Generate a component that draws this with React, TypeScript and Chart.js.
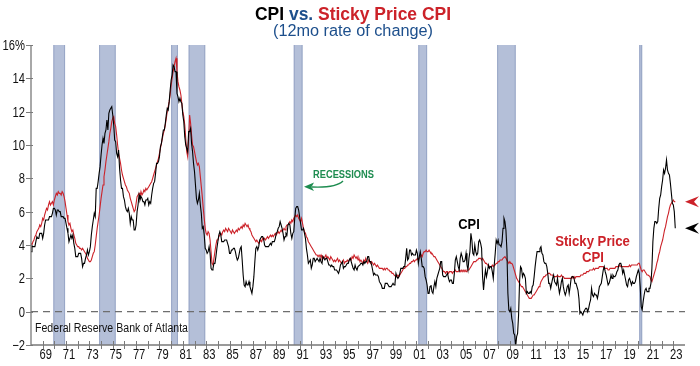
import React, { useEffect, useRef } from 'react';
import { Chart, registerables } from 'chart.js';

Chart.register(...registerables);

// Monthly series start in January of this year
const START_YEAR = 1968;

// CPI, 12-month % change, monthly (Jan 1968 .. Mar 2023)
const CPI = [
  3.6, 3.9, 3.9, 3.9, 3.9, 4.2, 4.5, 4.4, 4.4, 4.7, 4.7, 4.7, // 1968
  4.4, 4.7, 5.2, 5.5, 5.5, 5.5, 5.5, 5.7, 5.7, 5.7, 5.9, 6.2, // 1969
  6.2, 6.1, 5.8, 6.1, 6.1, 6.0, 6.0, 5.7, 5.7, 5.7, 5.6, 5.6, // 1970
  5.3, 5.0, 4.7, 4.2, 4.4, 4.6, 4.4, 4.6, 4.1, 3.8, 3.3, 3.3, // 1971
  3.3, 3.5, 3.5, 3.5, 3.2, 2.7, 2.9, 2.9, 3.2, 3.4, 3.7, 3.4, // 1972
  3.6, 3.9, 4.6, 5.1, 5.5, 5.9, 5.7, 7.4, 7.4, 7.8, 8.3, 8.7, // 1973
  9.4, 10.0, 10.4, 10.1, 10.7, 10.9, 11.5, 10.9, 11.9, 12.1, 12.2, 12.3, // 1974
  11.8, 11.2, 10.3, 10.2, 9.5, 9.3, 9.7, 8.6, 7.9, 7.4, 7.4, 6.9, // 1975
  6.7, 6.3, 6.1, 6.0, 6.2, 5.9, 5.3, 5.7, 5.5, 5.5, 4.9, 4.9, // 1976
  5.2, 6.0, 6.4, 7.0, 6.7, 6.9, 6.8, 6.6, 6.6, 6.4, 6.7, 6.7, // 1977
  6.8, 6.4, 6.6, 6.5, 7.0, 7.4, 7.7, 7.8, 8.3, 8.9, 8.9, 9.0, // 1978
  9.3, 9.9, 10.1, 10.5, 10.9, 10.9, 11.3, 11.8, 12.2, 12.1, 12.6, 13.3, // 1979
  13.9, 14.2, 14.8, 14.7, 14.4, 14.4, 13.1, 12.9, 12.6, 12.8, 12.6, 12.5, // 1980
  11.8, 11.4, 10.5, 10.0, 9.8, 9.6, 10.8, 10.8, 11.0, 10.1, 9.6, 8.9, // 1981
  8.4, 7.6, 6.8, 6.5, 6.7, 7.1, 6.4, 5.9, 5.0, 5.1, 4.6, 3.8, // 1982
  3.7, 3.5, 3.6, 3.9, 3.5, 2.6, 2.5, 2.6, 2.9, 2.9, 3.3, 3.8, // 1983
  4.2, 4.6, 4.8, 4.6, 4.2, 4.2, 4.2, 4.3, 4.3, 4.3, 4.1, 3.9, // 1984
  3.5, 3.5, 3.7, 3.7, 3.8, 3.8, 3.6, 3.3, 3.1, 3.2, 3.5, 3.8, // 1985
  3.9, 3.1, 2.2, 1.6, 1.5, 1.8, 1.6, 1.6, 1.8, 1.5, 1.3, 1.1, // 1986
  1.5, 2.1, 3.0, 3.8, 3.9, 3.7, 3.9, 4.3, 4.4, 4.5, 4.5, 4.4, // 1987
  4.0, 3.9, 3.9, 3.9, 3.9, 4.0, 4.1, 4.0, 4.2, 4.2, 4.2, 4.4, // 1988
  4.7, 4.8, 5.0, 5.1, 5.4, 5.2, 5.0, 4.7, 4.3, 4.5, 4.7, 4.6, // 1989
  5.2, 5.3, 5.2, 4.7, 4.4, 4.7, 4.8, 5.6, 6.2, 6.3, 6.3, 6.1, // 1990
  5.7, 5.3, 4.9, 4.9, 5.0, 4.7, 4.4, 3.8, 3.4, 2.9, 3.0, 3.1, // 1991
  2.6, 2.8, 3.2, 3.2, 3.0, 3.1, 3.2, 3.1, 3.0, 3.2, 3.0, 2.9, // 1992
  3.3, 3.2, 3.1, 3.2, 3.2, 3.0, 2.8, 2.8, 2.7, 2.8, 2.7, 2.7, // 1993
  2.5, 2.5, 2.5, 2.4, 2.3, 2.5, 2.8, 2.9, 3.0, 2.6, 2.7, 2.7, // 1994
  2.8, 2.9, 2.9, 3.1, 3.2, 3.0, 2.8, 2.6, 2.5, 2.8, 2.6, 2.5, // 1995
  2.7, 2.7, 2.8, 2.9, 2.9, 2.8, 3.0, 2.9, 3.0, 3.0, 3.3, 3.3, // 1996
  3.0, 3.0, 2.8, 2.5, 2.2, 2.3, 2.2, 2.2, 2.2, 2.1, 1.8, 1.7, // 1997
  1.6, 1.4, 1.4, 1.4, 1.7, 1.7, 1.7, 1.6, 1.5, 1.5, 1.5, 1.6, // 1998
  1.7, 1.6, 1.7, 2.3, 2.1, 2.0, 2.1, 2.3, 2.6, 2.6, 2.6, 2.7, // 1999
  2.7, 3.2, 3.8, 3.1, 3.2, 3.7, 3.7, 3.4, 3.5, 3.4, 3.4, 3.4, // 2000
  3.7, 3.5, 2.9, 3.3, 3.6, 3.2, 2.7, 2.7, 2.6, 2.1, 1.9, 1.6, // 2001
  1.1, 1.1, 1.5, 1.6, 1.2, 1.1, 1.5, 1.8, 1.5, 2.0, 2.2, 2.4, // 2002
  2.6, 3.0, 3.0, 2.2, 2.1, 2.1, 2.1, 2.2, 2.3, 2.0, 1.8, 1.9, // 2003
  1.9, 1.7, 1.7, 2.3, 3.1, 3.3, 3.0, 2.7, 2.5, 3.2, 3.5, 3.3, // 2004
  3.0, 3.0, 3.1, 3.5, 2.8, 2.5, 3.2, 3.6, 4.7, 4.3, 3.5, 3.4, // 2005
  4.0, 3.6, 3.4, 3.5, 4.2, 4.3, 4.1, 3.8, 2.1, 1.3, 2.0, 2.5, // 2006
  2.1, 2.4, 2.8, 2.6, 2.7, 2.7, 2.4, 2.0, 2.8, 3.5, 4.3, 4.1, // 2007
  4.3, 4.0, 4.0, 3.9, 4.2, 5.0, 5.6, 5.4, 4.9, 3.7, 1.1, 0.1, // 2008
  0.0, 0.2, -0.4, -0.7, -1.3, -1.4, -2.1, -1.5, -1.3, -0.2, 1.8, 2.7, // 2009
  2.6, 2.1, 2.3, 2.2, 2.0, 1.1, 1.2, 1.1, 1.1, 1.2, 1.1, 1.5, // 2010
  1.6, 2.1, 2.7, 3.2, 3.6, 3.6, 3.6, 3.8, 3.9, 3.5, 3.4, 3.0, // 2011
  2.9, 2.9, 2.7, 2.3, 1.7, 1.7, 1.4, 1.7, 2.0, 2.2, 1.8, 1.7, // 2012
  1.6, 2.0, 1.5, 1.1, 1.4, 1.8, 2.0, 1.5, 1.2, 1.0, 1.2, 1.5, // 2013
  1.6, 1.1, 1.5, 2.0, 2.1, 2.1, 2.0, 1.7, 1.7, 1.7, 1.3, 0.8, // 2014
  -0.1, 0.0, -0.1, -0.2, 0.0, 0.1, 0.2, 0.2, 0.0, 0.2, 0.5, 0.7, // 2015
  1.4, 1.0, 0.9, 1.1, 1.0, 1.0, 0.8, 1.1, 1.5, 1.6, 1.7, 2.1, // 2016
  2.5, 2.7, 2.4, 2.2, 1.9, 1.6, 1.7, 1.9, 2.2, 2.0, 2.2, 2.1, // 2017
  2.1, 2.2, 2.4, 2.5, 2.8, 2.9, 2.9, 2.7, 2.3, 2.5, 2.2, 1.9, // 2018
  1.6, 1.5, 1.9, 2.0, 1.8, 1.6, 1.8, 1.7, 1.7, 1.8, 2.1, 2.3, // 2019
  2.5, 2.3, 1.5, 0.3, 0.1, 0.6, 1.0, 1.3, 1.4, 1.2, 1.2, 1.4, // 2020
  1.4, 1.7, 2.6, 4.2, 5.0, 5.4, 5.4, 5.3, 5.4, 6.2, 6.8, 7.0, // 2021
  7.5, 7.9, 8.5, 8.3, 8.6, 9.1, 8.5, 8.3, 8.2, 7.7, 7.1, 6.5, // 2022
  6.4, 6.0, 5.0, // 2023
];

// Sticky Price CPI, 12-month % change, monthly (Jan 1968 .. Mar 2023)
const STICKY = [
  4.1, 4.0, 4.2, 4.3, 4.5, 4.6, 4.8, 4.9, 5.0, 5.2, 5.1, 5.3, // 1968
  5.6, 5.5, 5.8, 6.0, 6.2, 6.1, 6.4, 6.6, 6.4, 6.5, 6.6, 6.4, // 1969
  6.7, 6.9, 7.1, 7.0, 7.2, 7.1, 7.1, 7.0, 7.2, 7.1, 6.9, 6.6, // 1970
  6.2, 5.8, 5.4, 5.2, 5.3, 5.0, 4.8, 4.9, 4.6, 4.4, 4.1, 4.0, // 1971
  3.9, 3.9, 3.8, 3.8, 3.7, 3.8, 3.7, 3.6, 3.5, 3.4, 3.2, 3.1, // 1972
  3.0, 3.0, 3.1, 3.3, 3.5, 3.6, 4.0, 4.5, 5.0, 5.4, 5.8, 6.3, // 1973
  6.8, 7.2, 7.6, 8.1, 8.5, 9.0, 9.4, 9.8, 10.2, 10.7, 11.0, 11.4, // 1974
  11.6, 11.7, 11.3, 11.1, 10.6, 10.0, 9.5, 9.2, 8.9, 8.5, 8.2, 8.0, // 1975
  7.8, 7.6, 7.5, 7.3, 7.2, 7.1, 6.8, 6.6, 6.4, 6.2, 6.0, 6.1, // 1976
  6.5, 6.9, 7.0, 7.1, 6.9, 7.2, 7.0, 7.1, 7.3, 7.2, 7.4, 7.3, // 1977
  7.4, 7.5, 7.6, 7.7, 7.8, 8.0, 8.2, 8.4, 8.6, 8.8, 9.0, 9.2, // 1978
  9.5, 9.8, 10.1, 10.4, 10.7, 10.9, 11.2, 11.6, 12.0, 12.3, 12.6, 13.0, // 1979
  13.6, 14.0, 14.4, 14.7, 15.0, 15.2, 14.4, 13.8, 13.5, 13.3, 13.0, 12.5, // 1980
  12.0, 11.7, 11.2, 10.4, 9.6, 9.3, 10.4, 11.8, 11.3, 10.6, 10.0, 9.9, // 1981
  9.6, 9.3, 9.0, 8.8, 8.9, 8.7, 8.1, 7.5, 6.9, 6.2, 5.6, 5.0, // 1982
  4.7, 4.6, 4.8, 4.7, 4.3, 3.6, 2.9, 2.8, 3.2, 3.6, 4.0, 4.3, // 1983
  4.3, 4.5, 4.6, 4.7, 4.6, 4.8, 4.9, 4.8, 5.0, 4.9, 4.8, 5.0, // 1984
  4.9, 4.8, 4.7, 4.9, 4.8, 4.7, 4.8, 4.9, 4.8, 5.0, 4.9, 5.0, // 1985
  5.1, 5.0, 5.2, 5.1, 5.3, 5.2, 5.1, 5.2, 5.0, 4.9, 4.8, 4.6, // 1986
  4.5, 4.4, 4.3, 4.2, 4.3, 4.2, 4.1, 4.2, 4.3, 4.2, 4.4, 4.3, // 1987
  4.4, 4.3, 4.4, 4.5, 4.4, 4.5, 4.6, 4.5, 4.6, 4.5, 4.6, 4.7, // 1988
  4.6, 4.7, 4.8, 4.7, 4.8, 4.9, 4.8, 4.9, 5.0, 4.9, 5.1, 5.2, // 1989
  5.2, 5.3, 5.4, 5.3, 5.5, 5.4, 5.6, 5.7, 5.8, 5.7, 5.8, 5.6, // 1990
  5.5, 5.4, 5.6, 5.3, 5.0, 4.8, 4.7, 4.5, 4.4, 4.2, 4.1, 4.0, // 1991
  3.9, 3.8, 3.7, 3.6, 3.5, 3.4, 3.4, 3.3, 3.4, 3.3, 3.4, 3.2, // 1992
  3.3, 3.2, 3.3, 3.4, 3.2, 3.3, 3.2, 3.1, 3.3, 3.2, 3.1, 3.0, // 1993
  3.1, 3.0, 3.1, 3.2, 3.0, 3.1, 3.0, 2.9, 3.0, 3.1, 2.9, 3.0, // 1994
  3.0, 3.1, 3.0, 3.1, 3.2, 3.1, 3.3, 3.2, 3.4, 3.3, 3.2, 3.3, // 1995
  3.1, 3.2, 3.0, 3.1, 3.0, 2.9, 3.1, 3.0, 3.2, 3.0, 2.9, 3.1, // 1996
  3.0, 2.9, 3.0, 2.9, 2.8, 2.9, 2.8, 2.7, 2.8, 2.7, 2.6, 2.6, // 1997
  2.6, 2.6, 2.5, 2.6, 2.5, 2.6, 2.6, 2.5, 2.5, 2.4, 2.4, 2.3, // 1998
  2.3, 2.2, 2.2, 2.1, 2.1, 2.2, 2.1, 2.2, 2.3, 2.4, 2.5, 2.6, // 1999
  2.6, 2.7, 2.7, 2.8, 2.8, 2.9, 2.9, 3.0, 3.0, 3.1, 3.0, 3.1, // 2000
  3.1, 3.2, 3.1, 3.2, 3.3, 3.4, 3.3, 3.5, 3.6, 3.6, 3.7, 3.6, // 2001
  3.6, 3.7, 3.6, 3.5, 3.5, 3.4, 3.3, 3.3, 3.2, 3.1, 3.0, 2.9, // 2002
  2.8, 2.7, 2.6, 2.5, 2.4, 2.4, 2.3, 2.4, 2.4, 2.3, 2.4, 2.4, // 2003
  2.4, 2.3, 2.4, 2.4, 2.5, 2.4, 2.4, 2.4, 2.5, 2.4, 2.5, 2.4, // 2004
  2.5, 2.4, 2.5, 2.4, 2.5, 2.5, 2.5, 2.6, 2.7, 2.8, 2.9, 3.0, // 2005
  3.0, 3.0, 3.1, 3.1, 3.2, 3.2, 3.2, 3.1, 3.2, 3.1, 3.0, 2.9, // 2006
  2.9, 2.8, 2.8, 2.7, 2.7, 2.7, 2.8, 2.7, 2.8, 2.8, 2.9, 2.9, // 2007
  3.0, 3.0, 3.1, 3.1, 3.1, 3.2, 3.2, 3.3, 3.2, 3.1, 3.0, 2.9, // 2008
  3.0, 2.9, 2.9, 2.8, 2.6, 2.4, 2.2, 2.0, 1.9, 1.8, 1.7, 1.6, // 2009
  1.5, 1.5, 1.4, 1.3, 1.2, 1.1, 1.0, 0.9, 0.8, 0.8, 0.8, 0.9, // 2010
  1.0, 1.0, 1.1, 1.2, 1.3, 1.4, 1.5, 1.6, 1.8, 1.9, 2.0, 2.1, // 2011
  2.1, 2.2, 2.2, 2.3, 2.3, 2.3, 2.2, 2.2, 2.2, 2.1, 2.1, 2.1, // 2012
  2.1, 2.2, 2.1, 2.1, 2.1, 2.2, 2.1, 2.1, 2.0, 2.0, 2.0, 2.0, // 2013
  2.0, 2.0, 2.0, 2.0, 2.1, 2.0, 2.1, 2.0, 2.1, 2.1, 2.1, 2.1, // 2014
  2.1, 2.2, 2.2, 2.2, 2.3, 2.3, 2.3, 2.4, 2.4, 2.4, 2.5, 2.5, // 2015
  2.5, 2.5, 2.6, 2.5, 2.6, 2.6, 2.6, 2.6, 2.7, 2.7, 2.7, 2.7, // 2016
  2.7, 2.6, 2.6, 2.6, 2.6, 2.5, 2.5, 2.6, 2.6, 2.6, 2.6, 2.6, // 2017
  2.6, 2.7, 2.7, 2.7, 2.7, 2.8, 2.7, 2.7, 2.7, 2.7, 2.7, 2.7, // 2018
  2.7, 2.7, 2.7, 2.8, 2.7, 2.8, 2.8, 2.8, 2.8, 2.8, 2.8, 2.8, // 2019
  2.9, 2.9, 2.7, 2.5, 2.4, 2.5, 2.5, 2.4, 2.3, 2.2, 2.2, 2.2, // 2020
  2.1, 1.9, 1.8, 2.0, 2.2, 2.4, 2.6, 2.9, 3.1, 3.4, 3.6, 3.9, // 2021
  4.1, 4.3, 4.6, 4.9, 5.1, 5.4, 5.7, 5.9, 6.2, 6.4, 6.5, 6.6, // 2022
  6.7, 6.6, 6.6, // 2023
];

// NBER recessions (decimal years: peak month start .. trough month end)
const RECESSION_START = [1969.917, 1973.833, 1980.0, 1981.5, 1990.5, 2001.167, 2007.917, 2020.083];
const RECESSION_END = [1970.917, 1975.25, 1980.583, 1982.917, 1991.25, 2001.917, 2009.5, 2020.333];

const Y_TICKS = [-2, 0, 2, 4, 6, 8, 10, 12, 14, 16];
const Y_TICK_LABELS = ['\u22122', '0', '2', '4', '6', '8', '10', '12', '14', '16%'];
const X_LABEL_YEARS = [1969, 1971, 1973, 1975, 1977, 1979, 1981, 1983, 1985, 1987, 1989, 1991, 1993, 1995, 1997, 1999, 2001, 2003, 2005, 2007, 2009, 2011, 2013, 2015, 2017, 2019, 2021, 2023];
const X_LABELS = ['69', '71', '73', '75', '77', '79', '81', '83', '85', '87', '89', '91', '93', '95', '97', '99', '01', '03', '05', '07', '09', '11', '13', '15', '17', '19', '21', '23'];

const X_MIN = 1968;
const X_MAX = 2024;
const Y_MIN = -2;
const Y_MAX = 16;

const RED = '#cc2229';
const BLUE = '#1d4f8c';
const GREEN = '#1e8c50';
const FONT = '"Liberation Sans", Arial, Helvetica, sans-serif';

function drawText(
  ctx: CanvasRenderingContext2D,
  s: string,
  x: number,
  y: number,
  font: string,
  color: string,
  align: 'left' | 'center' | 'right',
  sx = 1,
) {
  ctx.save();
  ctx.font = font;
  ctx.fillStyle = color;
  ctx.textBaseline = 'alphabetic';
  ctx.textAlign = 'left';
  const w = ctx.measureText(s).width * sx;
  const x0 = align === 'left' ? x : align === 'center' ? x - w / 2 : x - w;
  ctx.translate(x0, y);
  ctx.scale(sx, 1);
  ctx.fillText(s, 0, 0);
  ctx.restore();
}

function drawRich(
  ctx: CanvasRenderingContext2D,
  parts: { t: string; c: string }[],
  cx: number,
  y: number,
  font: string,
  targetW: number,
) {
  ctx.save();
  ctx.font = font;
  let total = 0;
  parts.forEach((p) => (total += ctx.measureText(p.t).width));
  const sx = targetW / total;
  ctx.translate(cx - targetW / 2, y);
  ctx.scale(sx, 1);
  ctx.textBaseline = 'alphabetic';
  ctx.textAlign = 'left';
  let x = 0;
  parts.forEach((p) => {
    ctx.fillStyle = p.c;
    ctx.fillText(p.t, x, 0);
    x += ctx.measureText(p.t).width;
  });
  ctx.restore();
}

function fitText(
  ctx: CanvasRenderingContext2D,
  s: string,
  x: number,
  y: number,
  font: string,
  color: string,
  align: 'left' | 'center' | 'right',
  targetW: number,
) {
  ctx.save();
  ctx.font = font;
  const w = ctx.measureText(s).width;
  ctx.restore();
  drawText(ctx, s, x, y, font, color, align, targetW / w);
}

function leftArrow(ctx: CanvasRenderingContext2D, tipX: number, y: number, color: string) {
  ctx.save();
  ctx.fillStyle = color;
  ctx.beginPath();
  ctx.moveTo(tipX, y);
  ctx.lineTo(tipX + 14, y - 5.5);
  ctx.lineTo(tipX + 9, y);
  ctx.lineTo(tipX + 14, y + 5.5);
  ctx.closePath();
  ctx.fill();
  ctx.restore();
}

const decorPlugin = {
  id: 'decor',
  beforeDraw(chart: any) {
    const { ctx, chartArea: a, scales } = chart;
    const xs = scales.x;
    const ys = scales.y;
    ctx.save();
    ctx.fillStyle = '#ffffff';
    ctx.fillRect(0, 0, chart.width, chart.height);
    // recession bands
    for (let i = 0; i < RECESSION_START.length; i++) {
      const x1 = xs.getPixelForValue(RECESSION_START[i]);
      const x2 = xs.getPixelForValue(RECESSION_END[i]);
      ctx.fillStyle = '#b4bfd8';
      ctx.fillRect(x1, a.top, x2 - x1, a.bottom - a.top);
      ctx.strokeStyle = '#98a6c6';
      ctx.lineWidth = 1;
      ctx.beginPath();
      ctx.moveTo(x1 + 0.5, a.top);
      ctx.lineTo(x1 + 0.5, a.bottom);
      ctx.moveTo(x2 - 0.5, a.top);
      ctx.lineTo(x2 - 0.5, a.bottom);
      ctx.stroke();
    }
    // zero line
    const y0 = ys.getPixelForValue(0);
    ctx.strokeStyle = '#6e6e6e';
    ctx.lineWidth = 1.2;
    ctx.setLineDash([7, 5]);
    ctx.beginPath();
    ctx.moveTo(a.left, y0);
    ctx.lineTo(a.right, y0);
    ctx.stroke();
    ctx.setLineDash([]);
    ctx.restore();
  },
  afterDraw(chart: any) {
    const { ctx, chartArea: a, scales } = chart;
    const xs = scales.x;
    const ys = scales.y;
    ctx.save();
    // axes
    ctx.strokeStyle = '#7a7a7a';
    ctx.lineWidth = 1.3;
    ctx.beginPath();
    ctx.moveTo(a.left, a.top);
    ctx.lineTo(a.left, a.bottom);
    ctx.lineTo(a.right, a.bottom);
    ctx.stroke();
    // y ticks
    ctx.lineWidth = 1;
    ctx.beginPath();
    Y_TICKS.forEach((v) => {
      const y = Math.round(ys.getPixelForValue(v)) + 0.5;
      ctx.moveTo(a.left - 5, y);
      ctx.lineTo(a.left + 2, y);
    });
    // x ticks every year
    for (let yr = X_MIN + 1; yr < X_MAX; yr++) {
      const x = Math.round(xs.getPixelForValue(yr)) + 0.5;
      ctx.moveTo(x, a.bottom - 4);
      ctx.lineTo(x, a.bottom + 4);
    }
    ctx.stroke();
    ctx.restore();

    const tickFont = `14px ${FONT}`;
    Y_TICKS.forEach((v, i) => {
      const y = ys.getPixelForValue(v);
      drawText(ctx, Y_TICK_LABELS[i], a.left - 6, y + 5, tickFont, '#111', 'right', 0.8);
    });
    X_LABEL_YEARS.forEach((yr, i) => {
      const x = xs.getPixelForValue(yr);
      drawText(ctx, X_LABELS[i], x + 3, a.bottom + 14, tickFont, '#111', 'center', 0.8);
    });

    // title
    drawRich(
      ctx,
      [
        { t: 'CPI ', c: '#000' },
        { t: 'vs. ', c: BLUE },
        { t: 'Sticky Price CPI', c: RED },
      ],
      353,
      20,
      `bold 19px ${FONT}`,
      196,
    );
    fitText(ctx, '(12mo rate of change)', 353, 36, `16px ${FONT}`, BLUE, 'center', 160);

    // source
    fitText(ctx, 'Federal Reserve Bank of Atlanta', 35, 332, `12.5px ${FONT}`, '#111', 'left', 153);

    // series labels
    drawText(ctx, 'CPI', 469, 229, `bold 14px ${FONT}`, '#000', 'center', 0.92);
    drawText(ctx, 'Sticky Price', 592.5, 246, `bold 14px ${FONT}`, RED, 'center', 0.94);
    drawText(ctx, 'CPI', 593, 261.5, `bold 14px ${FONT}`, RED, 'center', 0.94);

    // recessions annotation
    drawText(ctx, 'RECESSIONS', 343.5, 178, `bold 10px ${FONT}`, GREEN, 'center', 0.93);
    ctx.save();
    ctx.strokeStyle = GREEN;
    ctx.fillStyle = GREEN;
    ctx.lineWidth = 1.5;
    ctx.beginPath();
    ctx.moveTo(343, 181);
    ctx.quadraticCurveTo(336, 188, 312, 187);
    ctx.stroke();
    ctx.beginPath();
    ctx.moveTo(304, 186.8);
    ctx.lineTo(314, 182.5);
    ctx.lineTo(311.5, 187);
    ctx.lineTo(314, 191);
    ctx.closePath();
    ctx.fill();
    ctx.restore();

    // end-value arrows
    leftArrow(ctx, a.right, ys.getPixelForValue(STICKY[STICKY.length - 1]), RED);
    leftArrow(ctx, a.right, ys.getPixelForValue(CPI[CPI.length - 1]), '#000');
  },
};

export default function App() {
  const ref = useRef<HTMLCanvasElement | null>(null);
  useEffect(() => {
    if (!ref.current) return;
    const cpiPts = CPI.map((v, i) => ({ x: START_YEAR + i / 12, y: v }));
    const stickyPts = STICKY.map((v, i) => ({ x: START_YEAR + i / 12, y: v }));
    const chart = new Chart(ref.current, {
      type: 'line',
      data: {
        datasets: [
          {
            label: 'CPI',
            data: cpiPts,
            borderColor: '#000',
            borderWidth: 1.1,
            pointRadius: 0,
            tension: 0,
            order: 0,
          },
          {
            label: 'Sticky Price CPI',
            data: stickyPts,
            borderColor: RED,
            borderWidth: 1.1,
            pointRadius: 0,
            tension: 0,
            order: 1,
          },
        ],
      },
      options: {
        animation: false,
        responsive: false,
        devicePixelRatio: 1,
        layout: { padding: { top: 45, right: 15, left: 0, bottom: 0 } },
        plugins: { legend: { display: false }, tooltip: { enabled: false }, title: { display: false } },
        scales: {
          x: {
            type: 'linear',
            min: X_MIN,
            max: X_MAX,
            ticks: { display: false },
            grid: { display: false },
            border: { display: false },
            afterFit: (s: any) => {
              s.height = 21;
            },
          },
          y: {
            type: 'linear',
            min: Y_MIN,
            max: Y_MAX,
            ticks: { display: false },
            grid: { display: false },
            border: { display: false },
            afterFit: (s: any) => {
              s.width = 31;
            },
          },
        },
      },
      plugins: [decorPlugin],
    });
    return () => chart.destroy();
  }, []);
  return (
    <div style={{ position: 'fixed', left: 0, top: 0, width: 700, height: 366, background: '#fff' }}>
      <canvas ref={ref} width={700} height={366} style={{ display: 'block' }} />
    </div>
  );
}
